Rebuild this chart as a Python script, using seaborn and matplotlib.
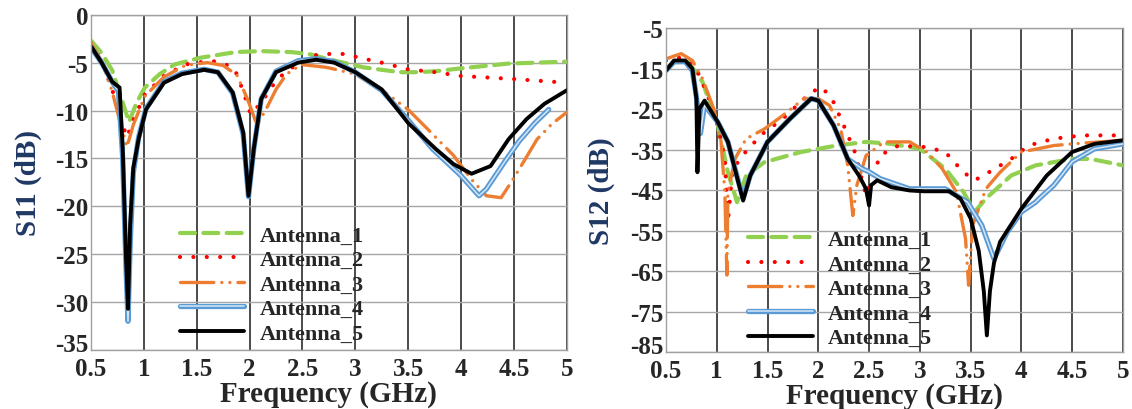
import numpy as np
import pandas as pd
import matplotlib
matplotlib.use("Agg")
import matplotlib.pyplot as plt
import matplotlib.patheffects as pe
import matplotlib.transforms as mtransforms
import seaborn as sns

# ---- S11 data (GHz, dB) ----
s11_a1_f = [0.5, 0.6, 0.7, 0.78, 0.86, 0.93, 1.01, 1.15, 1.29, 1.53, 1.87, 2.11, 2.39, 2.56, 2.73, 3.08, 3.42, 3.59, 3.76, 4.0, 4.45, 5.0]
s11_a1_v = [-2.7, -4.0, -5.8, -8.5, -11.2, -9.2, -7.6, -6.2, -5.2, -4.5, -3.9, -3.8, -3.9, -4.1, -4.6, -5.5, -6.0, -6.0, -5.9, -5.6, -5.1, -4.9]

s11_a2_f = [0.5, 0.6, 0.7, 0.77, 0.84, 0.9, 1.01, 1.19, 1.39, 1.63, 1.75, 1.86, 1.94, 2.01, 2.11, 2.25, 2.35, 2.53, 2.66, 2.9, 3.04, 3.25, 3.5, 3.76, 4.0, 4.48, 5.0]
s11_a2_v = [-3.0, -4.8, -7.8, -10.5, -12.8, -11.0, -8.3, -6.4, -5.2, -4.8, -5.05, -5.7, -8.0, -10.4, -9.2, -6.9, -5.9, -4.6, -4.1, -4.1, -4.5, -5.0, -5.7, -6.0, -6.4, -6.7, -7.1]

s11_a3_f = [0.5, 0.6, 0.7, 0.77, 0.84, 0.9, 1.01, 1.19, 1.39, 1.6, 1.75, 1.88, 1.98, 2.07, 2.15, 2.25, 2.35, 2.49, 2.73, 3.0, 3.28, 3.5, 3.69, 3.93, 4.1, 4.24, 4.38, 4.48, 4.59, 4.72, 4.86, 5.0]
s11_a3_v = [-3.0, -4.8, -8.0, -11.0, -13.8, -11.5, -8.5, -6.5, -5.3, -5.0, -5.3, -6.3, -8.8, -11.5, -10.0, -7.8, -6.2, -5.2, -5.5, -6.2, -8.1, -9.9, -12.0, -14.7, -17.2, -18.9, -19.1, -17.4, -15.4, -13.0, -11.4, -10.2]

s11_a4_f = [0.5, 0.6, 0.7, 0.76, 0.8, 0.83, 0.85, 0.87, 0.9, 0.95, 1.02, 1.19, 1.36, 1.57, 1.7, 1.84, 1.94, 1.99, 2.04, 2.11, 2.25, 2.46, 2.63, 2.8, 3.0, 3.25, 3.5, 3.73, 4.0, 4.17, 4.24, 4.41, 4.55, 4.7, 4.83]
s11_a4_v = [-3.4, -5.0, -7.0, -8.0, -15.0, -26.0, -32.0, -24.0, -16.5, -12.8, -9.8, -7.0, -6.1, -5.7, -6.0, -8.2, -12.5, -19.0, -14.0, -8.8, -5.9, -4.8, -4.6, -4.9, -6.0, -7.9, -11.0, -14.0, -16.8, -18.9, -18.2, -15.4, -13.2, -11.3, -9.9]

s11_a5_f = [0.5, 0.6, 0.7, 0.77, 0.8, 0.83, 0.85, 0.87, 0.9, 0.95, 1.02, 1.19, 1.36, 1.57, 1.7, 1.84, 1.94, 1.99, 2.04, 2.11, 2.25, 2.46, 2.63, 2.8, 3.0, 3.25, 3.5, 3.76, 3.93, 4.1, 4.28, 4.45, 4.62, 4.79, 5.0]
s11_a5_v = [-3.3, -5.0, -7.0, -7.6, -14.0, -25.0, -30.7, -22.0, -16.0, -13.0, -9.9, -7.1, -6.2, -5.75, -6.0, -8.1, -12.3, -18.9, -14.0, -8.8, -6.0, -5.0, -4.7, -5.0, -6.0, -7.8, -11.3, -14.0, -15.6, -16.6, -15.8, -13.0, -10.9, -9.3, -7.9]

# ---- S12 data (GHz, dB) ----
s12_a1_f = [0.5, 0.58, 0.72, 0.86, 1.01, 1.11, 1.2, 1.29, 1.47, 1.83, 2.18, 2.47, 2.72, 3.0, 3.25, 3.43, 3.54, 3.65, 3.9, 4.14, 4.5, 4.68, 5.0]
s12_a1_v = [-15.0, -13.4, -13.4, -18.3, -29.0, -40.6, -48.0, -41.4, -38.1, -35.6, -34.0, -33.1, -33.6, -34.8, -39.7, -45.5, -50.4, -47.1, -41.4, -38.9, -37.3, -37.3, -38.9]

s12_a2_f = [0.5, 0.65, 0.79, 0.9, 1.01, 1.08, 1.11, 1.15, 1.22, 1.33, 1.43, 1.65, 1.93, 2.04, 2.15, 2.25, 2.36, 2.47, 2.54, 2.61, 2.79, 3.07, 3.25, 3.43, 3.54, 3.68, 3.9, 4.07, 4.32, 4.6, 5.0]
s12_a2_v = [-13.0, -12.2, -14.6, -20.8, -29.0, -37.3, -53.0, -41.4, -37.3, -34.4, -31.5, -27.4, -20.8, -19.6, -23.3, -29.0, -35.6, -46.3, -41.4, -36.4, -34.0, -34.4, -35.6, -40.6, -42.6, -40.6, -37.3, -34.0, -32.3, -31.5, -31.5]

s12_a3_f = [0.5, 0.65, 0.76, 0.86, 0.97, 1.04, 1.08, 1.1, 1.11, 1.18, 1.29, 1.47, 1.65, 1.86, 2.0, 2.11, 2.22, 2.29, 2.34, 2.38, 2.47, 2.65, 2.9, 3.07, 3.22, 3.36, 3.45, 3.48, 3.52, 3.65, 3.79, 4.0, 4.32, 4.5, 5.0]
s12_a3_v = [-12.6, -11.3, -13.0, -17.5, -24.9, -32.3, -45.5, -66.0, -45.5, -37.3, -32.3, -29.9, -26.6, -22.4, -22.4, -24.1, -29.9, -38.9, -51.3, -43.8, -36.5, -33.1, -33.1, -35.6, -39.7, -45.5, -57.0, -68.5, -53.7, -44.7, -40.6, -35.6, -34.0, -33.6, -32.7]

s12_a4_f = [0.5, 0.58, 0.69, 0.76, 0.8, 0.84, 0.88, 1.01, 1.11, 1.22, 1.26, 1.33, 1.5, 1.72, 1.93, 2.0, 2.15, 2.29, 2.43, 2.5, 2.61, 2.9, 3.25, 3.47, 3.61, 3.73, 3.86, 4.0, 4.14, 4.18, 4.32, 4.5, 4.72, 5.0]
s12_a4_v = [-15.5, -13.3, -13.3, -15.5, -22.0, -31.0, -24.0, -28.2, -33.1, -43.5, -47.0, -41.4, -33.1, -27.4, -22.4, -22.9, -29.0, -37.3, -39.7, -40.5, -42.2, -44.7, -44.7, -48.0, -53.7, -62.0, -55.4, -50.4, -48.0, -47.0, -43.8, -38.0, -34.8, -33.6]

s12_a5_f = [0.5, 0.58, 0.69, 0.76, 0.8, 0.81, 0.83, 0.88, 1.01, 1.11, 1.22, 1.26, 1.33, 1.5, 1.72, 1.93, 2.0, 2.15, 2.29, 2.4, 2.47, 2.5, 2.52, 2.58, 2.72, 2.9, 3.04, 3.29, 3.4, 3.5, 3.58, 3.63, 3.66, 3.69, 3.73, 3.79, 4.0, 4.25, 4.5, 4.72, 5.0]
s12_a5_v = [-15.5, -13.0, -13.0, -15.0, -22.4, -40.6, -24.9, -22.9, -28.2, -33.1, -43.8, -47.6, -41.4, -33.1, -27.4, -22.4, -22.9, -29.0, -37.3, -41.4, -44.7, -48.8, -43.8, -42.6, -44.3, -45.1, -45.3, -45.3, -47.1, -52.0, -60.0, -70.0, -80.9, -70.0, -63.0, -57.8, -49.6, -41.4, -35.6, -33.6, -32.7]

labels = ["Antenna_1", "Antenna_2", "Antenna_3", "Antenna_4", "Antenna_5"]
x_ticks = [0.5, 1, 1.5, 2, 2.5, 3, 3.5, 4, 4.5, 5]
x_ticklabels = ["0.5", "1", "1.5", "2", "2.5", "3", "3.5", "4", "4.5", "5"]
s11_yticks = [0, -5, -10, -15, -20, -25, -30, -35]
s12_yticks = [-5, -15, -25, -35, -45, -55, -65, -75, -85]

sns.set_style("white")
plt.rcParams["font.family"] = ["Liberation Serif", "DejaVu Serif"]
plt.rcParams["font.weight"] = "bold"

styles = [
    dict(color="#92D050", linewidth=3.0, linestyle=(0, (3.6, 2.0)), dash_capstyle="round"),
    dict(color="#FF0000", linewidth=3.0, linestyle=(0, (0.01, 3.2)), dash_capstyle="round"),
    dict(color="#ED7D31", linewidth=2.4, linestyle=(0, (10, 2.4, 0.01, 2.4, 0.01, 2.4)), dash_capstyle="round"),
    dict(color="#D6E6F5", linewidth=1.1, path_effects=[pe.Stroke(linewidth=3.8, foreground="#5B9BD5"), pe.Normal()]),
    dict(color="black", linewidth=2.8),
]


def draw(ax, series, yticks, ylabel, ylim, leg_anchor, ylabel_pad):
    for (f, v), lab, st in zip(series, labels, styles):
        df = pd.DataFrame({"f": f, "v": v})
        sns.lineplot(data=df, x="f", y="v", ax=ax, label=lab, sort=False, estimator=None, **st)
    ax.set_xlim(0.5, 5)
    ax.set_ylim(*ylim)
    ax.set_xticks(x_ticks)
    ax.set_xticklabels(x_ticklabels)
    ax.set_yticks(yticks)
    ax.set_yticklabels([str(t) for t in yticks])
    ax.tick_params(labelsize=18, length=0)
    ax.tick_params(axis="x", pad=5)
    ax.tick_params(axis="y", pad=2)
    for lbl in ax.get_xticklabels() + ax.get_yticklabels():
        lbl.set_fontweight("bold")
    # lowest y label sits a little above its gridline, as in the original
    low = ax.get_yticklabels()[-1]
    low.set_transform(low.get_transform() + mtransforms.ScaledTranslation(0, 6 / 72, fig.dpi_scale_trans))
    ax.set_xlabel("Frequency (GHz)", fontsize=21, fontweight="bold", labelpad=0)
    ax.set_ylabel(ylabel, fontsize=21, fontweight="bold", color="#1F3864", labelpad=ylabel_pad)
    ax.yaxis.grid(True, color="#A6A6A6", linewidth=1.0)
    ax.xaxis.grid(True, color="#1A1A1A", linewidth=1.1)
    ax.set_axisbelow(True)
    for sp in ax.spines.values():
        sp.set_color("#A0A0A0")
        sp.set_linewidth(1.0)
    ax.legend(loc="upper left", bbox_to_anchor=leg_anchor, frameon=False,
              prop={"size": 16, "weight": "bold"}, handlelength=2.9,
              handletextpad=0.7, labelspacing=0.18, borderpad=0, borderaxespad=0)


fig = plt.figure(figsize=(11.32, 4.10), dpi=100)
ax1 = fig.add_axes([0.0804, 0.1439, 0.4202, 0.8178])
ax2 = fig.add_axes([0.5883, 0.1390, 0.4037, 0.7900])

draw(ax1, [(s11_a1_f, s11_a1_v), (s11_a2_f, s11_a2_v), (s11_a3_f, s11_a3_v), (s11_a4_f, s11_a4_v), (s11_a5_f, s11_a5_v)],
     s11_yticks, "S11 (dB)", (-35, 0), (0.187, 0.373), 9)
draw(ax2, [(s12_a1_f, s12_a1_v), (s12_a2_f, s12_a2_v), (s12_a3_f, s12_a3_v), (s12_a4_f, s12_a4_v), (s12_a5_f, s12_a5_v)],
     s12_yticks, "S12 (dB)", (-85, -5), (0.18, 0.378), 11)

fig.savefig("out.png", dpi=100)
